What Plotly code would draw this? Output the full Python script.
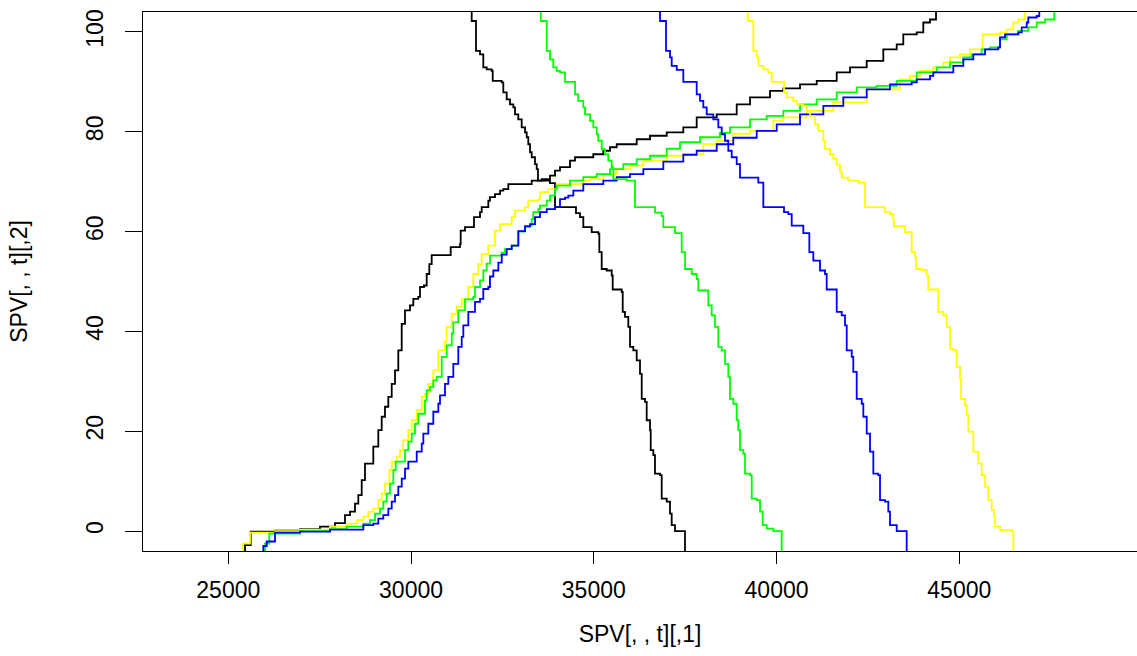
import plotly.graph_objects as go

# ---- increasing curves ----
black_inc_x = [25457,25457,25613,26278,26962,27509,27919,28193,28330,28466,28557,28650,28740,28967,29104,29197,29287,29378,29471,29561,29651,29744,29834,29971,30062,30198,30245,30354,30428,30499,30565,31085,31339,31358,31476,31722,31887,31933,32114,32160,32297,32434,32524,32661,33301,33575,33802,33939,34075,34349,34486,34986,35260,35443,35627,36174,36538,36995,37449,37815,38363,38910,39274,39821,40185,40642,41099,41646,42010,42467,42921,43287,43468,43835,44015,44198,44363,44363]
black_inc_y = [-5.8,-2.8,-0.1,0.1,0.4,0.9,1.6,3.2,3.9,5.5,7.2,10.2,13.5,16.9,20.2,22.9,24.9,26.9,29.5,32.2,36.2,41.5,44.2,45.2,46.5,46.9,48.9,49.2,51.5,53.5,55.3,56.9,57.5,60.2,60.9,62.9,63.9,64.9,66.2,66.9,67.5,68.2,68.5,69.5,70.2,70.5,71.2,72.2,72.9,74.2,74.9,75.5,76.2,76.9,77.5,78.5,79.2,79.9,80.9,82.9,83.5,85.5,86.9,88.2,88.7,89.5,90.2,91.9,92.9,94.2,96.5,97.5,99.5,99.9,101.9,102.5,104.2,106.2]

yellow_inc_x = [25367,25402,25594,26278,26962,27783,28240,28513,28694,28831,28968,29104,29197,29288,29405,29471,29608,29698,29788,29925,30018,30155,30292,30382,30472,30609,30746,30929,30976,31113,31249,31386,31567,31704,31840,31933,32114,32297,32434,32754,32844,33118,33208,33482,33528,33756,33985,34705,34896,35260,35627,35991,36355,36995,37449,37996,38363,38817,39274,39911,40185,40825,41553,42467,43378,43652,43925,44289,44563,44746,45020,45293,45613,45641,46114,46297,46478,46615,46798,46798]
yellow_inc_y = [-5.8,-2.5,-0.3,0,0.3,0.9,1.5,2.2,2.9,3.9,4.5,6.2,7.5,9.5,12.2,13.9,14.9,16.2,18.2,20.2,22.2,24.2,26.9,27.5,29.5,32.2,36.2,37.9,40.9,43.5,44.9,46.5,48.9,51.5,53.5,55.5,57.2,60.2,61.5,62.9,64.2,64.9,66.2,66.5,67.9,68.5,69.5,70.2,70.5,71.5,72.5,73.2,74.2,75.2,75.5,77.5,78.2,79.6,80.2,82.2,82.9,84.2,85.9,88.5,90.5,91.2,92.2,92.9,93.9,94.9,95.5,96.5,96.9,99.5,99.9,100.5,101.9,102.5,103.7,106.2]

green_inc_x = [25958,26004,26122,26962,27783,28240,28694,28877,29014,29151,29241,29334,29424,29515,29580,29835,29925,30018,30108,30199,30382,30428,30519,30609,30702,30839,30976,31113,31156,31293,31476,31704,31750,31887,31977,32070,32160,32481,32571,32754,32935,33118,33255,33301,33345,33482,33528,33712,33802,33939,33985,34349,34713,35080,35444,35808,36174,36538,36995,37359,37906,38453,38727,39274,39731,40185,40642,41099,41646,42193,42740,43288,43835,44382,44746,45110,45340,45613,45840,46114,46297,46615,46888,47118,47345,47600,47600]
green_inc_y = [-5.8,-2.5,-0.5,0,0.4,0.9,1.5,2.2,3.5,4.5,5.9,7.5,9.5,12.2,13.9,16.2,17.9,19.5,21.5,23.5,26.2,28.2,28.9,30.2,30.9,34.9,37.2,39.6,41.8,44.2,46.4,46.9,48.9,50.2,52.2,53.6,55.2,55.8,56.5,57.2,60.0,60.9,61.2,62.5,63.9,64.5,65.2,66.2,67.2,68.4,69.2,70.2,70.9,71.5,72.5,73.5,74.5,75.2,76.6,77.9,78.9,79.8,80.9,82.5,83.2,84.2,85.5,86.5,87.9,88.9,89.2,90.2,91.9,92.9,93.9,94.9,95.5,96.5,96.9,98.5,99.5,100.2,100.9,101.9,102.5,102.9,106.2]

blue_inc_x = [25914,25958,26051,26278,26962,27783,28694,28968,29104,29241,29378,29471,29561,29651,29745,29835,29925,30155,30292,30336,30472,30609,30746,30792,30929,31020,31156,31293,31386,31430,31567,31750,31887,31977,32114,32160,32251,32388,32481,32617,32754,32935,33118,33255,33392,33528,33712,33939,34075,34212,34303,34440,34713,35260,35627,35991,36355,36902,37449,37815,38363,38817,39457,40004,40642,41280,41827,42467,43104,43698,43835,44199,44289,44836,45110,45384,45704,46067,46114,46251,46615,46708,46845,46888,47118,47189,47189]
blue_inc_y = [-5.8,-3.0,-2.1,-0.3,-0.1,0.3,1.2,1.5,2.5,3.2,4.5,5.9,7.2,8.9,10.5,12.5,13.9,15.9,17.5,19.5,21.5,23.9,25.5,27.2,29.5,30.9,33.5,36.9,38.9,41.2,43.9,45.9,46.5,48.5,48.9,51.0,52.2,53.8,55.4,56.5,57.2,60.1,61.1,61.5,62.9,63.9,64.5,64.9,66.5,66.8,67.2,68.2,69.5,70.2,70.9,71.5,72.5,74.0,75.4,76.2,77.5,78.8,80.2,81.5,83.5,85.2,86.9,88.5,89.5,89.9,90.5,91.2,91.9,93.2,94.5,95.5,96.5,96.9,98.9,99.5,99.9,100.9,101.9,102.9,103.2,103.7,106.2]

# ---- decreasing curves ----
black_dec_x = [31659,31659,31777,31887,31977,31977,32070,32207,32234,32480,32524,32617,32707,32798,32844,32934,33027,33118,33164,33208,33255,33301,33391,33438,33473,33802,33939,34513,34622,34713,34943,35123,35151,35216,35353,35490,35517,35763,35791,35854,35944,35991,36081,36174,36264,36311,36401,36447,36538,36557,36628,36674,36811,36858,36995,37085,37131,37222,37495]
black_dec_y = [106.2,102.2,96.2,95.5,94.9,92.9,92.5,92.2,90.2,89.9,87.9,86.5,85.5,84.9,83.5,82.5,80.9,79.9,78.9,77.5,75.9,74.9,73.5,72.5,70.2,69.7,64.9,63.7,62.9,60.9,59.9,59.6,55.9,52.5,52.2,51.2,48.4,47.9,43.9,42.9,40.9,36.9,36.2,34.2,31.5,26.5,25.9,22.2,20.2,16.2,15.2,11.5,11.2,6.5,5.9,3.5,1.2,0,-5.8]

green_dec_x = [33548,33548,33712,33802,33892,33985,34075,34212,34486,34576,34713,34760,34896,34987,35080,35123,35217,35307,35397,35490,35534,35900,36128,36675,36858,36902,37222,37405,37496,37679,37816,37859,38133,38226,38316,38407,38500,38590,38680,38727,38817,38910,38954,39000,39091,39137,39274,39321,39457,39548,39621,39731,39912,40141]
green_dec_y = [106.2,102.2,96.2,94.5,92.9,92.2,91.9,90.0,87.5,86.2,84.9,83.5,82.2,80.9,79.5,78.2,76.5,75.5,74.2,72.9,70.5,70.2,64.9,63.8,63.1,60.9,59.7,55.9,52.5,51.5,50.5,48.2,45.2,43.2,40.9,36.9,36.2,33.5,30.9,26.5,25.5,22.2,20.2,16.2,15.5,11.5,11.2,6.5,6.2,3.9,1.2,0.5,0,-5.8]

blue_dec_x = [36812,36812,36976,37085,37132,37269,37449,37815,37906,37996,38089,38270,38407,38500,38590,38680,38773,38910,39000,39501,39638,40204,40322,40415,40732,40897,41006,41189,41326,41372,41646,41783,41873,41920,42057,42100,42193,42330,42374,42467,42557,42648,42784,42831,42968,43058,43104,43288,43561]
blue_dec_y = [106.2,102.2,96.2,94.9,93.2,92.4,90.0,87.5,86.2,84.9,83.5,82.5,80.9,79.5,78.2,76.2,74.9,73.5,70.8,69.8,64.9,63.9,63.5,61.2,59.7,55.9,54.2,52.2,51.5,48.4,43.9,43.2,41.2,36.2,34.9,31.9,26.5,25.5,22.9,19.5,15.9,11.5,11.2,6.2,5.9,3.9,1.2,0,-5.8]

yellow_dec_x = [39211,39211,39364,39457,39501,39638,39775,39868,40204,40278,40459,40552,40732,40825,40916,41052,41143,41280,41326,41463,41553,41646,41736,41783,41964,42237,42420,42968,43104,43195,43214,43515,43698,43788,43816,43972,44109,44152,44426,44426,44563,44656,44746,44836,44929,45020,45047,45156,45203,45247,45384,45520,45613,45704,45794,45887,45950,45977,46114,46434,46478]
yellow_dec_y = [106.2,102.2,96.2,94.9,93.2,92.5,91.8,90.0,87.8,86.9,86.2,85.5,85.2,84.2,83.2,81.5,80.2,78.2,76.5,75.5,74.6,73.4,72.0,70.8,70.2,69.8,64.9,63.9,63.5,62.2,61.1,59.9,55.9,54.9,52.5,52.3,51.2,48.4,47.5,43.9,43.2,40.9,36.5,36.2,32.9,30.5,26.5,25.2,23.2,19.9,15.9,13.5,11.2,8.9,6.2,4.2,2.9,0.9,0.2,0,-5.8]

x_ticks = [25000, 30000, 35000, 40000, 45000]
y_ticks = [0, 20, 40, 60, 80, 100]
x_label = "SPV[, , t][,1]"
y_label = "SPV[, , t][,2]"

series = [
    (black_inc_x, black_inc_y, "black"),
    (black_dec_x, black_dec_y, "black"),
    (yellow_inc_x, yellow_inc_y, "#FFFF00"),
    (green_inc_x, green_inc_y, "#00FF00"),
    (blue_inc_x, blue_inc_y, "#0000FF"),
    (green_dec_x, green_dec_y, "#00FF00"),
    (blue_dec_x, blue_dec_y, "#0000FF"),
    (yellow_dec_x, yellow_dec_y, "#FFFF00"),
]

fig = go.Figure()
for xs, ys, col in series:
    fig.add_trace(go.Scatter(x=xs, y=ys, mode="lines", line=dict(color=col, width=1.8, shape="hv"),
                             hoverinfo="skip", showlegend=False))

font = "Liberation Sans, Arial, Helvetica, sans-serif"
fig.update_layout(
    width=1137, height=656,
    margin=dict(l=143, r=0, t=12, b=105),
    paper_bgcolor="white", plot_bgcolor="white",
    font=dict(family=font, size=23, color="black"),
    xaxis=dict(range=[22666, 49862], tickvals=x_ticks, ticktext=[str(v) for v in x_ticks],
               showgrid=False, zeroline=False, showline=True, linecolor="black", linewidth=1.3,
               mirror=True, ticks="outside", ticklen=12, tickwidth=1.3, tickcolor="black",
               ticklabelstandoff=6,
               title=dict(text=x_label, standoff=24, font=dict(size=23))),
    yaxis=dict(range=[-4, 104], tickvals=y_ticks, ticktext=[str(v) for v in y_ticks],
               showgrid=False, zeroline=False, showline=True, linecolor="black", linewidth=1.3,
               ticks="outside", ticklen=17, tickwidth=1.3, tickcolor="black", tickangle=-90,
               ticklabelstandoff=13,
               title=dict(text=y_label, standoff=47, font=dict(size=23))),
)
fig.write_html("out.html")
